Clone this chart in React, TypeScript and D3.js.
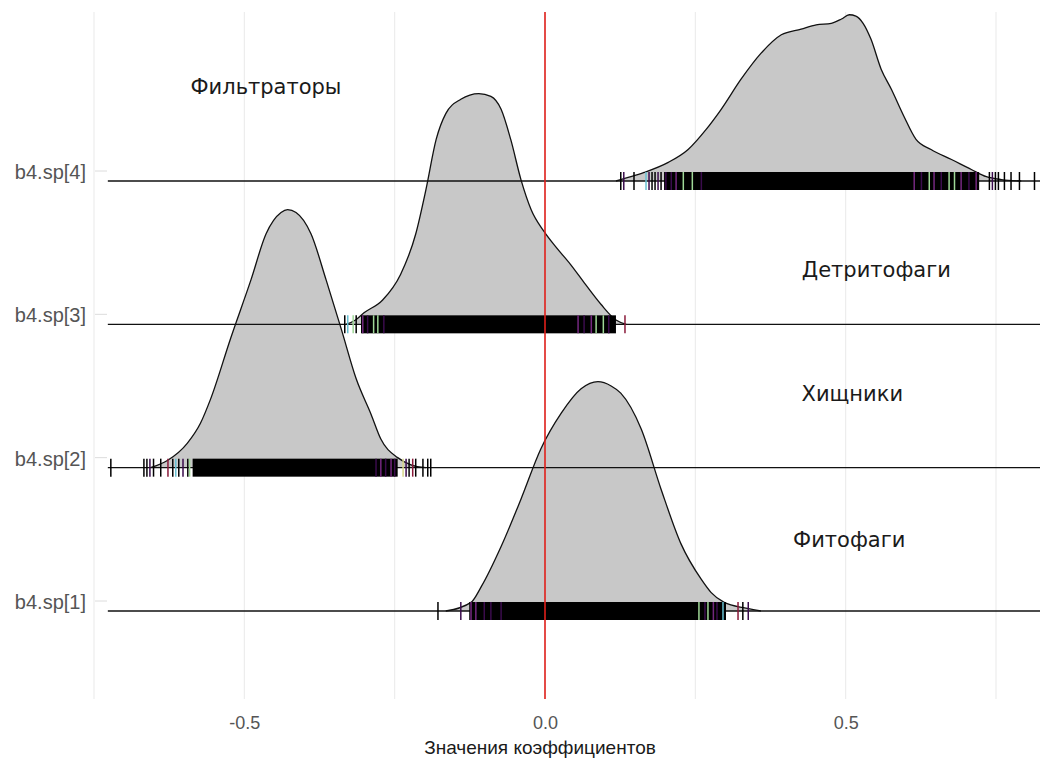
import { useRef, useEffect } from "react";
import * as d3 from "d3";

// categories, bottom to top
const groups = ["b4.sp[1]", "b4.sp[2]", "b4.sp[3]", "b4.sp[4]"];

// annotation text and where it sits (x in coefficient units, y in category units)
const groupNames = ["Фитофаги", "Хищники", "Детритофаги", "Фильтраторы"];
const nameX = [0.506, 0.511, 0.551, -0.464];
const nameY = [1.43, 2.45, 3.31, 4.59];

// density curves: [coefficient, height in rows]
const densitySp1: [number, number][] = [
  [-0.165, 0], [-0.123, 0.06], [-0.106, 0.17], [-0.073, 0.45], [-0.04, 0.78],
  [-0.007, 1.13], [0.027, 1.38], [0.06, 1.55], [0.088, 1.6], [0.11, 1.57],
  [0.126, 1.52], [0.16, 1.27], [0.193, 0.85], [0.226, 0.47], [0.26, 0.22],
  [0.276, 0.13], [0.298, 0.06], [0.334, 0.02], [0.359, 0],
];
const densitySp2: [number, number][] = [
  [-0.656, 0], [-0.628, 0.05], [-0.595, 0.17], [-0.573, 0.31], [-0.556, 0.48],
  [-0.523, 0.9], [-0.489, 1.31], [-0.464, 1.63], [-0.439, 1.78], [-0.428, 1.8],
  [-0.414, 1.78], [-0.389, 1.63], [-0.364, 1.31], [-0.339, 0.97], [-0.314, 0.62],
  [-0.289, 0.37], [-0.273, 0.2], [-0.245, 0.07], [-0.223, 0.02], [-0.198, 0],
];
const densitySp3: [number, number][] = [
  [-0.331, 0], [-0.315, 0.03], [-0.301, 0.08], [-0.27, 0.17], [-0.24, 0.35],
  [-0.215, 0.63], [-0.198, 0.94], [-0.181, 1.29], [-0.165, 1.47], [-0.14, 1.57],
  [-0.11, 1.61], [-0.09, 1.59], [-0.073, 1.5], [-0.057, 1.29], [-0.04, 1.01],
  [-0.023, 0.8], [-0.002, 0.65], [0.018, 0.54], [0.042, 0.42], [0.067, 0.28],
  [0.093, 0.14], [0.118, 0.03], [0.135, 0],
];
const densitySp4: [number, number][] = [
  [0.118, 0], [0.143, 0.03], [0.165, 0.06], [0.205, 0.13], [0.238, 0.22],
  [0.268, 0.36], [0.293, 0.5], [0.326, 0.71], [0.359, 0.89], [0.393, 1.02],
  [0.426, 1.06], [0.451, 1.09], [0.476, 1.1], [0.493, 1.13], [0.506, 1.16],
  [0.517, 1.15], [0.529, 1.1], [0.542, 0.99], [0.559, 0.78], [0.576, 0.64],
  [0.597, 0.45], [0.617, 0.29], [0.642, 0.22], [0.676, 0.15], [0.709, 0.08],
  [0.734, 0.03], [0.759, 0.01], [0.792, 0],
];

// dense part of each rug (solid black)
const bandSp1: [number, number] = [-0.126, 0.301];
const bandSp2: [number, number] = [-0.586, -0.245];
const bandSp3: [number, number] = [-0.306, 0.118];
const bandSp4: [number, number] = [0.198, 0.722];

// single rug ticks: [coefficient, colour key]
const rugSp1: [number, string][] = [
  [-0.178, "k"], [-0.14, "p"], [-0.123, "m"], [-0.115, "m"], [-0.101, "p"],
  [-0.09, "p"], [-0.073, "p"], [0.256, "g"], [0.266, "p"], [0.271, "g"],
  [0.28, "m"], [0.286, "p"], [0.296, "c"], [0.321, "r"], [0.329, "k"], [0.338, "p"],
];
const rugSp2: [number, string][] = [
  [-0.722, "k"], [-0.667, "k"], [-0.662, "k"], [-0.657, "p"], [-0.651, "k"],
  [-0.639, "k"], [-0.627, "r"], [-0.619, "k"], [-0.614, "c"], [-0.609, "k"],
  [-0.602, "p"], [-0.594, "k"], [-0.591, "g"], [-0.281, "p"], [-0.273, "m"],
  [-0.265, "p"], [-0.256, "m"], [-0.25, "p"], [-0.236, "y"], [-0.231, "p"],
  [-0.226, "k"], [-0.22, "r"], [-0.215, "k"], [-0.203, "k"], [-0.195, "k"], [-0.19, "k"],
];
const rugSp3: [number, string][] = [
  [-0.333, "k"], [-0.328, "c"], [-0.319, "g"], [-0.314, "k"], [-0.303, "m"],
  [-0.295, "p"], [-0.285, "g"], [-0.278, "g"], [-0.268, "p"], [0.055, "m"],
  [0.065, "p"], [0.077, "m"], [0.085, "g"], [0.097, "g"], [0.106, "p"], [0.133, "r"],
];
const rugSp4: [number, string][] = [
  [0.126, "k"], [0.131, "p"], [0.148, "k"], [0.168, "c"], [0.173, "p"],
  [0.178, "k"], [0.183, "k"], [0.188, "p"], [0.193, "k"], [0.201, "p"],
  [0.21, "p"], [0.218, "m"], [0.23, "g"], [0.245, "g"], [0.26, "p"],
  [0.614, "m"], [0.626, "p"], [0.639, "g"], [0.647, "m"], [0.659, "p"],
  [0.672, "g"], [0.681, "g"], [0.692, "m"], [0.705, "p"], [0.717, "m"],
  [0.739, "k"], [0.744, "p"], [0.749, "k"], [0.754, "k"], [0.764, "k"],
  [0.775, "k"], [0.789, "k"], [0.814, "k"],
];

const densities = [densitySp1, densitySp2, densitySp3, densitySp4];
const bands = [bandSp1, bandSp2, bandSp3, bandSp4];
const rugs = [rugSp1, rugSp2, rugSp3, rugSp4];

// range the ridgelines are evaluated over
const xRange: [number, number] = [-0.727, 0.84];
const xTicks = [-0.5, 0, 0.5];
const xGrid = [-0.75, -0.5, -0.25, 0, 0.25, 0.5, 0.75];

const rugColors: Record<string, string> = {
  k: "#000000",
  p: "#3a0c4c",
  m: "#74287f",
  g: "#9fd897",
  c: "#68c1d3",
  r: "#8a1a3a",
  y: "#d8d88a",
};

const width = 1040;
const height = 760;

function RidgeChart() {
  const svgRef = useRef<SVGSVGElement>(null);

  useEffect(() => {
    if (!svgRef.current) return;
    const svg = d3.select(svgRef.current);
    svg.selectAll("*").remove();

    const panel = { left: 93, top: 12, bottom: 699 };
    const x = d3.scaleLinear().domain([-0.75, 0.75]).range([94, 996]);
    const y = d3.scaleLinear().domain([1, 4]).range([601, 171]);
    const step = y(1) - y(2);
    const nudge = 10; // ridge baseline sits a little below the category
    const base = (i: number) => y(i + 1) + nudge;

    // grid
    svg
      .append("g")
      .selectAll("line")
      .data(xGrid)
      .join("line")
      .attr("x1", (d) => x(d))
      .attr("x2", (d) => x(d))
      .attr("y1", panel.top)
      .attr("y2", panel.bottom)
      .attr("stroke", "#ebebeb")
      .attr("stroke-width", 1.1);

    // y axis
    const yAxis = svg.append("g");
    yAxis
      .selectAll("line")
      .data(groups)
      .join("line")
      .attr("x1", panel.left + 2)
      .attr("x2", panel.left + 14)
      .attr("y1", (_, i) => y(i + 1))
      .attr("y2", (_, i) => y(i + 1))
      .attr("stroke", "#dcdcdc")
      .attr("stroke-width", 1);
    yAxis
      .selectAll("text")
      .data(groups)
      .join("text")
      .attr("x", 86)
      .attr("y", (_, i) => y(i + 1) + 1)
      .attr("dy", "0.35em")
      .attr("text-anchor", "end")
      .attr("fill", "#555")
      .attr("font-family", "Liberation Sans, Arial, sans-serif")
      .attr("font-size", 20)
      .text((d) => d);

    // ridges, top to bottom
    const order = [3, 2, 1, 0];
    const fills = svg.append("g");
    const lines = svg.append("g");
    const rugLayer = svg.append("g");

    order.forEach((i) => {
      const b = base(i);
      const area = d3
        .area<[number, number]>()
        .x((d) => x(d[0]))
        .y0(b)
        .y1((d) => b - d[1] * step)
        .curve(d3.curveMonotoneX);
      const line = d3
        .line<[number, number]>()
        .x((d) => x(d[0]))
        .y((d) => b - d[1] * step)
        .curve(d3.curveMonotoneX);

      fills
        .append("path")
        .datum(densities[i])
        .attr("fill", "#c8c8c8")
        .attr("d", area);

      lines
        .append("line")
        .attr("x1", x(xRange[0]))
        .attr("x2", x(xRange[1]))
        .attr("y1", b)
        .attr("y2", b)
        .attr("stroke", "#111")
        .attr("stroke-width", 1.4);
      lines
        .append("path")
        .datum(densities[i])
        .attr("fill", "none")
        .attr("stroke", "#111")
        .attr("stroke-width", 1.3)
        .attr("d", line);

      const g = rugLayer.append("g");
      g.append("rect")
        .attr("x", x(bands[i][0]))
        .attr("width", x(bands[i][1]) - x(bands[i][0]))
        .attr("y", b - 9)
        .attr("height", 18)
        .attr("fill", "#000");
      g.selectAll("line")
        .data(rugs[i])
        .join("line")
        .attr("x1", (d) => x(d[0]))
        .attr("x2", (d) => x(d[0]))
        .attr("y1", b - 9)
        .attr("y2", b + 9)
        .attr("stroke", (d) => rugColors[d[1]])
        .attr("stroke-width", 1.5);
    });

    // group names
    svg
      .append("g")
      .selectAll("text")
      .data(groupNames)
      .join("text")
      .attr("x", (_, i) => x(nameX[i]))
      .attr("y", (_, i) => y(nameY[i]))
      .attr("dy", "0.35em")
      .attr("text-anchor", "middle")
      .attr("fill", "#1a1a1a")
      .attr("font-family", "DejaVu Sans, Verdana, sans-serif")
      .attr("font-size", 21)
      .text((d) => d);

    // reference line at zero
    svg
      .append("line")
      .attr("x1", x(0))
      .attr("x2", x(0))
      .attr("y1", panel.top)
      .attr("y2", panel.bottom)
      .attr("stroke", "#e0201b")
      .attr("stroke-width", 1.6);

    // x axis
    const fmt = (d: d3.NumberValue) => d3.format(".1f")(d).replace("−", "-");
    const xAxis = svg
      .append("g")
      .attr("transform", `translate(0,${panel.bottom + 14})`)
      .call(d3.axisBottom(x).tickValues(xTicks).tickSize(0).tickFormat(fmt));
    xAxis.select(".domain").remove();
    xAxis
      .selectAll("text")
      .attr("fill", "#555")
      .attr("font-family", "Liberation Sans, Arial, sans-serif")
      .attr("font-size", 18);

    svg
      .append("text")
      .attr("x", 540)
      .attr("y", 747)
      .attr("dy", "0.35em")
      .attr("text-anchor", "middle")
      .attr("fill", "#1a1a1a")
      .attr("font-family", "Liberation Sans, Arial, sans-serif")
      .attr("font-size", 19)
      .text("Значения коэффициентов");
  }, []);

  return (
    <svg
      ref={svgRef}
      width={width}
      height={height}
      style={{ position: "absolute", left: 0, top: 0, background: "#fff" }}
    />
  );
}

export default function App() {
  return <RidgeChart />;
}
